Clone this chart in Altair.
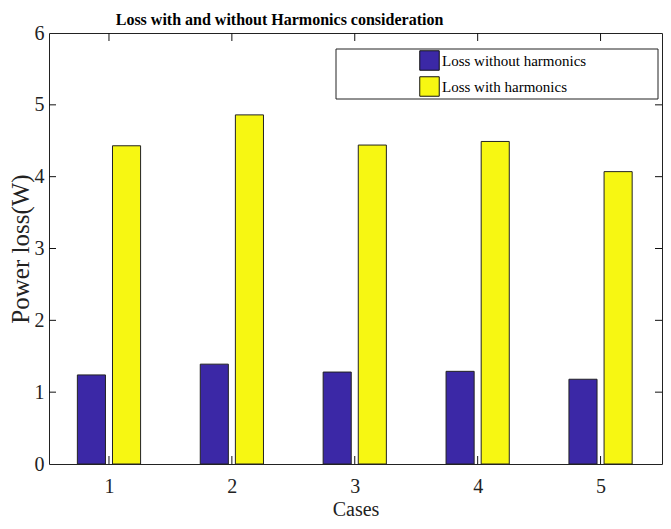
import altair as alt
import pandas as pd

# ---- data ----
cases = [1, 2, 3, 4, 5]
series_names = ["Loss without harmonics", "Loss with harmonics"]
loss_without = [1.24, 1.39, 1.28, 1.29, 1.18]
loss_with = [4.43, 4.86, 4.44, 4.49, 4.07]
x_ticks = [1, 2, 3, 4, 5]
y_ticks = [0, 1, 2, 3, 4, 5, 6]
colors = ["#3b28a6", "#f7f712"]

rows = []
for i, c in enumerate(cases):
    rows.append({"case": c, "series": series_names[0], "idx": 0, "value": loss_without[i]})
    rows.append({"case": c, "series": series_names[1], "idx": 1, "value": loss_with[i]})
df = pd.DataFrame(rows)

W, H = 613, 431
FONT = "Liberation Serif"

xscale = alt.Scale(domain=[0.512, 5.5], nice=False, zero=False)
yscale = alt.Scale(domain=[0, 6], nice=False)
xaxis = alt.Axis(values=x_ticks, title="Cases", format="d")
yaxis = alt.Axis(values=y_ticks, title="Power loss(W)", format="d")

bars = (
    alt.Chart(df)
    .transform_calculate(
        xc="datum.case + (datum.idx == 0 ? -0.1429 : 0.1429)",
    )
    .transform_calculate(x_lo="datum.xc - 0.1143", x_hi="datum.xc + 0.1143")
    .mark_bar(stroke="#222", strokeWidth=1)
    .encode(
        x=alt.X("x_lo:Q", scale=xscale, axis=xaxis),
        x2="x_hi:Q",
        y=alt.Y("value:Q", scale=yscale, axis=yaxis),
        y2=alt.datum(0),
        color=alt.Color(
            "series:N",
            scale=alt.Scale(domain=series_names, range=colors),
            legend=alt.Legend(
                orient="none", legendX=370, legendY=17, title=None,
                symbolType="square", symbolSize=380, symbolStrokeColor="#111",
                symbolStrokeWidth=1, symbolOpacity=1,
                labelFont=FONT, labelFontSize=15, labelColor="black",
                labelOffset=2, rowPadding=1, padding=0,
            ),
        ),
    )
)

frame_df = pd.DataFrame({"k": [0]})
legend_box = (
    alt.Chart(frame_df)
    .mark_rect(fill="white", stroke="#222", strokeWidth=1)
    .encode(x=alt.value(287), x2=alt.value(609), y=alt.value(16), y2=alt.value(66))
)

xt = pd.DataFrame({"c": x_ticks})
yt = pd.DataFrame({"v": y_ticks[1:-1]})

xb = alt.Chart(xt).mark_rule(color="#111").encode(
    x=alt.X("c:Q", scale=xscale, axis=xaxis), y=alt.value(H), y2=alt.value(H - 8))
xtop = alt.Chart(xt).mark_rule(color="#111").encode(
    x=alt.X("c:Q", scale=xscale, axis=xaxis), y=alt.value(0), y2=alt.value(8))
yl = alt.Chart(yt).mark_rule(color="#111").encode(
    y=alt.Y("v:Q", scale=yscale, axis=yaxis), x=alt.value(0), x2=alt.value(7))
yr = alt.Chart(yt).mark_rule(color="#111").encode(
    y=alt.Y("v:Q", scale=yscale, axis=yaxis), x=alt.value(W - 7), x2=alt.value(W))

chart = (
    alt.layer(bars, xb, xtop, yl, yr, legend_box)
    .properties(
        width=W, height=H,
        autosize=alt.AutoSizeParams(type="none"),
        padding={"left": 41, "top": 25, "right": 1, "bottom": 57},
        title=alt.TitleParams(
            "Loss with and without Harmonics consideration",
            font=FONT, fontSize=16, fontWeight="bold", color="black",
            anchor="middle", dx=-76, offset=-5,
        ),
    )
    .configure_view(stroke="#222", strokeWidth=1)
    .configure_axis(
        grid=False, ticks=False, domain=False,
        labelFont=FONT, labelFontSize=20, labelColor="#222",
        titleFont=FONT, titleFontWeight="normal", titleColor="#222",
    )
    .configure_axisX(labelPadding=12, titleFontSize=20, titlePadding=3, labelAngle=0)
    .configure_axisY(labelPadding=5, titleFontSize=25, titlePadding=1)
)

chart.save("out.html", embed_options={"renderer": "svg", "actions": False})
